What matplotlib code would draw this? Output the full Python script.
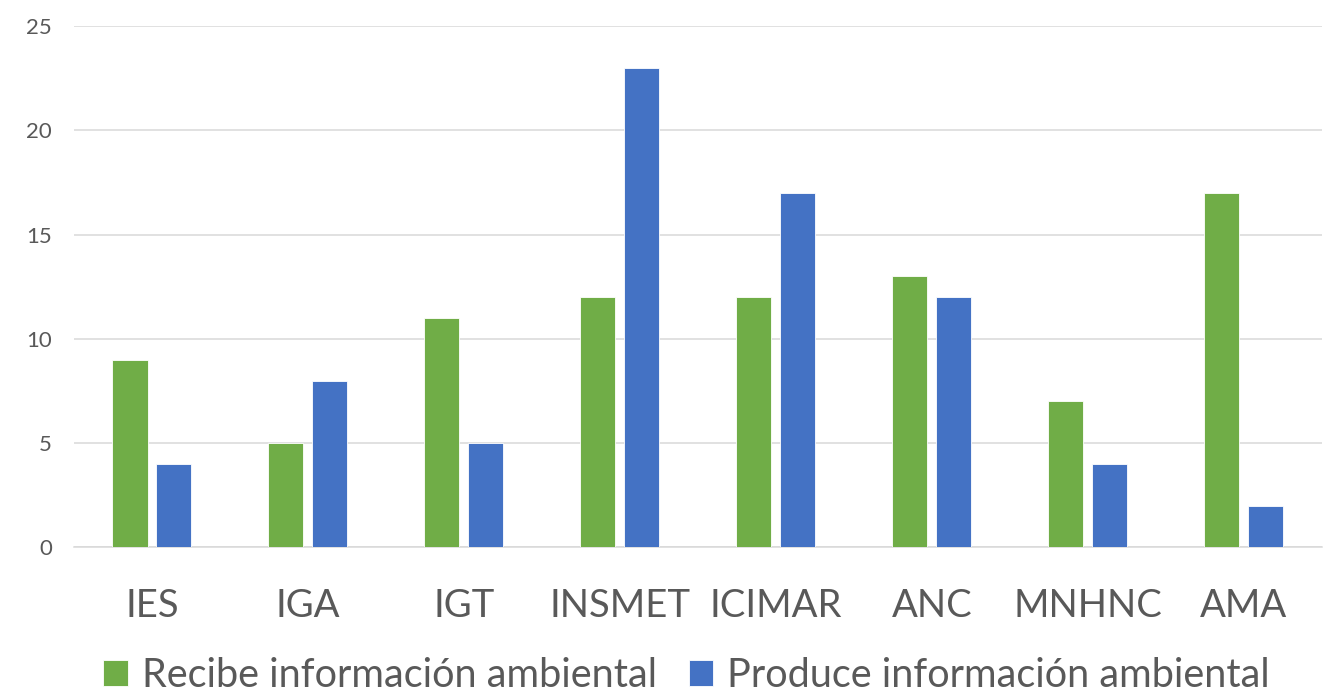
import matplotlib
matplotlib.use('AGG')

import matplotlib.pyplot as plt
import numpy as np

plt.rcParams['font.family'] = ['Lato', 'DejaVu Sans']

categories = ['IES', 'IGA', 'IGT', 'INSMET', 'ICIMAR', 'ANC', 'MNHNC', 'AMA']
recibe = [9, 5, 11, 12, 12, 13, 7, 17]
produce = [4, 8, 5, 23, 17, 12, 4, 2]
series_names = ['Recibe información ambiental', 'Produce información ambiental']
yticks = [0, 5, 10, 15, 20, 25]

green = '#70AD47'
blue = '#4472C4'
text_color = '#595959'
grid_color = '#D9D9D9'

fig = plt.figure(figsize=(13.33, 6.96), dpi=100)
ax = fig.add_axes([0.0555, 0.2134, 0.936, 0.7492])

x = np.arange(len(categories))
w = 0.225
off = 0.141
ax.bar(x - off, recibe, w, color=green, edgecolor='white', linewidth=0.6,
       label=series_names[0], zorder=3)
ax.bar(x + off, produce, w, color=blue, edgecolor='white', linewidth=0.6,
       label=series_names[1], zorder=3)

ax.set_xlim(-0.5, len(categories) - 0.5)
ax.set_ylim(0, 25)
ax.set_yticks(yticks)
ax.set_yticklabels([str(t) for t in yticks])
ax.set_xticks(x)
ax.set_xticklabels(categories)

ax.grid(axis='y', color=grid_color, linewidth=1.1, zorder=0)
for s in ['top', 'right', 'left']:
    ax.spines[s].set_visible(False)
ax.spines['bottom'].set_color(grid_color)
ax.spines['bottom'].set_linewidth(1.1)

ax.tick_params(axis='y', length=0, labelsize=16, labelcolor=text_color, pad=16)
ax.tick_params(axis='x', length=0, labelsize=27.5, labelcolor=text_color, pad=29)

leg = fig.legend(loc='center', bbox_to_anchor=(0.515, 0.03), ncol=2, frameon=False,
                 fontsize=28.5, handlelength=0.62, handleheight=0.62,
                 handletextpad=0.35, columnspacing=0.8, borderaxespad=0)
for t in leg.get_texts():
    t.set_color(text_color)

fig.savefig('out.png', dpi=100)
